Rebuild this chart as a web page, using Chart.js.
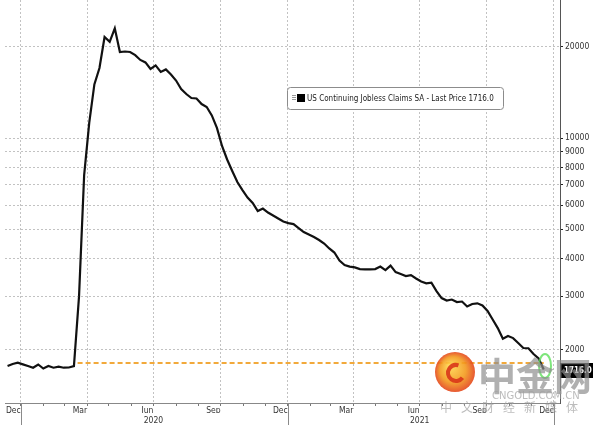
<!DOCTYPE html>
<html><head><meta charset="utf-8">
<script src="https://cdn.jsdelivr.net/npm/chart.js@4.4.0/dist/chart.umd.min.js"></script>
<style>html,body{margin:0;padding:0;background:#fff;}#wrap{position:relative;width:593px;height:425px;}canvas{display:block}</style>
</head><body><div id="wrap"><canvas id="c" width="593" height="425"></canvas></div>
<script>
// ---- data ----
const seriesName = 'US Continuing Jobless Claims SA';
const firstWeek = '2019-12-14';           // week ending of first observation (weekly series)
const claims = [
  1762, 1789, 1807, 1785, 1762, 1740, 1783, 1729, 1762, 1740, 1753, 1740, 1743, 1762,
  3000, 7545, 11250, 15040, 17040, 21580, 20800, 23050, 19250, 19320,
  19250, 18800, 18120, 17780, 16920, 17380, 16540, 16860, 16220, 15490,
  14520, 13980, 13560, 13510, 12950, 12660, 11880, 10800, 9410, 8494,
  7776, 7150, 6730, 6356, 6097, 5737, 5846, 5671, 5543, 5417,
  5294, 5234, 5194, 5039, 4888, 4797, 4707, 4600, 4478, 4313,
  4182, 3935, 3804, 3758, 3735, 3688, 3680, 3680, 3688, 3758,
  3660, 3787, 3604, 3549, 3497, 3520, 3432, 3354, 3309, 3323,
  3118, 2957, 2902, 2924, 2869, 2880, 2772, 2826, 2840, 2794,
  2680, 2511, 2353, 2170, 2214, 2180, 2100, 2022, 2018, 1931,
  1868, 1716
];
const refLevel = 1805;
const refStart = '2020-03-19';
const yTicks = [2000, 3000, 4000, 5000, 6000, 7000, 8000, 9000, 10000, 20000];
const quarterTickDates = ['2020-01-01','2020-04-01','2020-07-01','2020-10-01','2021-01-01','2021-04-01','2021-07-01','2021-10-01','2022-01-01'];
const quarterTickLabels = ['Dec','Mar','Jun','Sep','Dec','Mar','Jun','Sep','Dec'];
const yearLabelDates = ['2020-07-01','2021-07-01'];
const yearLabels = ['2020','2021'];
const yearStartDates = ['2020-01-01','2021-01-01','2022-01-01'];

// ---- helpers ----
const DAY = 86400000, T0 = Date.UTC(2020, 0, 1);
const dayOf = s => (Date.parse(s) - T0) / DAY;
const xMin = -21.5, xMax = 739.3;
const weeks = claims.map((_, i) => dayOf(firstWeek) + 7 * i);
const lineData = claims.map((v, i) => ({x: weeks[i], y: v}));
const refData = [{x: dayOf(refStart), y: refLevel}, {x: weeks[weeks.length - 1], y: refLevel}];
const monthTicks = [];
for (let yr = 2020; yr <= 2022; yr++) for (let m = 0; m < 12; m++) {
  const d = (Date.UTC(yr, m, 1) - T0) / DAY;
  if (d >= xMin && d <= xMax) monthTicks.push(d);
}
const quarterDays = quarterTickDates.map(dayOf);
const FONT = '"DejaVu Sans Condensed", "Liberation Sans", sans-serif';
const noPad = s => { s.paddingTop = 0; s.paddingBottom = 0; s.paddingLeft = 0; s.paddingRight = 0; };

const decor = {
  id: 'decor',
  afterDraw(chart) {
    const {ctx, chartArea, scales: {x, y}} = chart;
    ctx.save();
    // year separators below axis
    ctx.strokeStyle = '#8a8a8a'; ctx.lineWidth = 1;
    yearStartDates.forEach(d => {
      const px = Math.round(x.getPixelForValue(dayOf(d))) + 0.5;
      ctx.beginPath(); ctx.moveTo(px, chartArea.bottom); ctx.lineTo(px, chart.height); ctx.stroke();
    });
    // legend box
    const last = claims[claims.length - 1];
    const label = seriesName + ' - Last Price ' + last.toFixed(1);
    const bx = 287, by = 87, bw = 216, bh = 22;
    ctx.fillStyle = '#fff'; ctx.strokeStyle = '#8c8c8c'; ctx.lineWidth = 1;
    ctx.beginPath(); ctx.roundRect(bx + 0.5, by + 0.5, bw, bh, 3); ctx.fill(); ctx.stroke();
    ctx.fillStyle = '#9a9a9a';
    for (let k = 0; k < 3; k++) ctx.fillRect(bx + 5, by + 8 + k * 2, 4, 1);
    ctx.fillStyle = '#000'; ctx.fillRect(bx + 10, by + 7, 8, 8);
    let fs = 9;
    ctx.font = fs + 'px ' + FONT;
    const target = 187;
    fs = fs * target / ctx.measureText(label).width;
    ctx.font = fs.toFixed(2) + 'px ' + FONT;
    ctx.fillStyle = '#1a1a1a'; ctx.textBaseline = 'middle'; ctx.textAlign = 'left';
    ctx.fillText(label, bx + 20, by + bh / 2 + 1);
    // last price tag
    const py = y.getPixelForValue(last);
    ctx.fillStyle = '#000';
    ctx.fillRect(chartArea.right, Math.round(py) - 7, chart.width - chartArea.right, 15);
    ctx.fillStyle = '#fff'; ctx.font = 'bold 8px ' + FONT;
    ctx.fillText(last.toFixed(1), chartArea.right + 4, Math.round(py) + 1);
    // watermark
    ctx.globalAlpha = 0.9;
    const cx = 455, cy = 372, r = 20;
    const g = ctx.createRadialGradient(cx - 5, cy - 6, 2, cx, cy, r);
    g.addColorStop(0, '#ffd24a'); g.addColorStop(0.6, '#f39a1e'); g.addColorStop(1, '#e5471c');
    ctx.fillStyle = g; ctx.beginPath(); ctx.arc(cx, cy, r, 0, Math.PI * 2); ctx.fill();
    ctx.strokeStyle = '#d9361a'; ctx.lineWidth = 4;
    ctx.beginPath(); ctx.arc(cx + 1, cy + 1, 8, Math.PI * 0.2, Math.PI * 1.6); ctx.stroke();
    ctx.globalAlpha = 0.8;
    ctx.strokeStyle = '#5ee05a'; ctx.lineWidth = 2;
    ctx.beginPath(); ctx.ellipse(545, 366, 6, 12, 0, 0, Math.PI * 2); ctx.stroke();
    ctx.globalAlpha = 0.7;
    ctx.fillStyle = '#8f8f8f'; ctx.textBaseline = 'alphabetic'; ctx.textAlign = 'left';
    ctx.font = 'bold 38px "Noto Sans CJK SC"';
    ctx.fillText('中金网', 478, 390);
    ctx.font = '10px "DejaVu Sans"';
    ctx.fillStyle = '#a0a0a0';
    ctx.fillText('CNGOLD.COM.CN', 492, 399);
    ctx.font = '12px "Noto Sans CJK SC"';
    const wm = '中文财经新媒体';
    for (let k = 0; k < wm.length; k++) ctx.fillText(wm[k], 440 + k * 21, 412);
    ctx.restore();
  }
};

new Chart(document.getElementById('c'), {
  type: 'line',
  data: {
    datasets: [
      {label: seriesName, data: lineData, borderColor: '#111', borderWidth: 2.2, pointRadius: 0, tension: 0, order: 1},
      {label: 'ref', data: refData, borderColor: '#f2a93b', borderWidth: 2, borderDash: [5, 3], pointRadius: 0, order: 2}
    ]
  },
  options: {
    responsive: false, animation: false,
    layout: {padding: {left: 5, top: 0, right: 0, bottom: 0}},
    plugins: {legend: {display: false}, tooltip: {enabled: false}},
    scales: {
      x: {
        type: 'linear', position: 'bottom', min: xMin, max: xMax, weight: 0,
        afterBuildTicks: s => { s.ticks = monthTicks.map(v => ({value: v})); },
        afterFit: s => { s.height = 10; noPad(s); },
        ticks: {autoSkip: false, maxRotation: 0, align: 'end', padding: 0, color: '#333',
          font: {family: FONT, size: 8.5},
          callback: v => { const k = quarterDays.indexOf(v); return k >= 0 ? quarterTickLabels[k] : ''; }},
        grid: {color: c => (c.tick && quarterDays.includes(c.tick.value)) ? '#c2c2c2' : 'rgba(0,0,0,0)',
          tickColor: '#777', tickLength: 3, lineWidth: 1},
        border: {color: '#888', width: 1, dash: [2, 2]}
      },
      x2: {
        type: 'linear', position: 'bottom', min: xMin, max: xMax, weight: 1,
        afterBuildTicks: s => { s.ticks = yearLabelDates.map(d => ({value: dayOf(d)})); },
        afterFit: s => { s.height = 12; noPad(s); },
        ticks: {autoSkip: false, maxRotation: 0, padding: 3, color: '#333', font: {family: FONT, size: 8.5},
          callback: (v, i) => yearLabels[i]},
        grid: {display: false, drawTicks: false, tickLength: 0}, border: {display: false}
      },
      y: {
        type: 'logarithmic', position: 'right', min: 1330, max: 28600,
        afterBuildTicks: s => { s.ticks = yTicks.map(v => ({value: v})); },
        afterFit: s => { s.width = 33; noPad(s); },
        ticks: {autoSkip: false, color: '#333', padding: 2, font: {family: FONT, size: 8.5}, callback: v => String(v)},
        grid: {color: '#c2c2c2', tickColor: '#222', tickLength: 3, lineWidth: 1},
        border: {color: '#555', width: 1, dash: [2, 2]}
      }
    }
  },
  plugins: [decor]
});
</script>
</body></html>
